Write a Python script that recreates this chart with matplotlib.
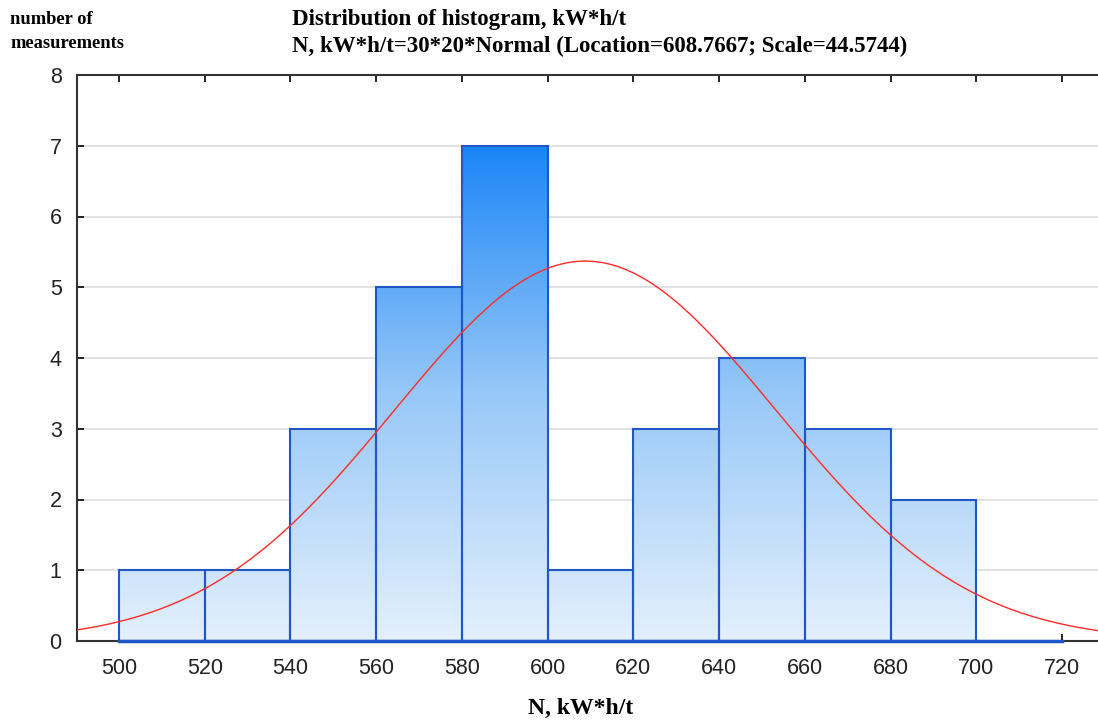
import numpy as np
import matplotlib.pyplot as plt
from matplotlib.colors import LinearSegmentedColormap
from matplotlib.patches import Rectangle


# histogram of N, kW*h/t (30 measurements, bin width 20)
BIN_EDGES = [500, 520, 540, 560, 580, 600, 620, 640, 660, 680, 700, 720]
COUNTS = [1, 1, 3, 5, 7, 1, 3, 4, 3, 2, 0]
X_TICKS = [500, 520, 540, 560, 580, 600, 620, 640, 660, 680, 700, 720]
Y_TICKS = [0, 1, 2, 3, 4, 5, 6, 7, 8]

# fitted normal curve as given in the title
N_OBS = 30
BIN_WIDTH = 20
LOCATION = 608.7667
SCALE = 44.5744

OUTPUT_FIG = "out.png"

SERIF = ["Liberation Serif", "DejaVu Serif"]
SANS = ["Liberation Sans", "DejaVu Sans"]


def normal_fit(x):
    z = (x - LOCATION) / SCALE
    return N_OBS * BIN_WIDTH * np.exp(-0.5 * z**2) / (SCALE * np.sqrt(2 * np.pi))


def main():
    fig = plt.figure(figsize=(10.98, 7.2), dpi=100)
    ax = fig.add_axes([77 / 1098, 1 - 641 / 720, 1 - 77 / 1098, (641 - 75) / 720])

    xmin, xmax = 490.2, 728.4
    ymin, ymax = 0, 8
    ax.set_xlim(xmin, xmax)
    ax.set_ylim(ymin, ymax)

    cmap = LinearSegmentedColormap.from_list("bars", ["#e4f0fc", "#98c8f8", "#1c86f7"])
    grad_top = 7.0

    for y in Y_TICKS[1:-1]:
        ax.axhline(y, color="#dcdcdc", lw=1.2, zorder=0)

    for left, right, c in zip(BIN_EDGES[:-1], BIN_EDGES[1:], COUNTS):
        if c > 0:
            grad = np.linspace(0, c / grad_top, 200).reshape(-1, 1)
            im = ax.imshow(grad, extent=(left, right, 0, c), origin="lower",
                           cmap=cmap, vmin=0, vmax=1, aspect="auto", zorder=1)
            rect = Rectangle((left, 0), right - left, c, fill=False,
                             edgecolor="#1f56c8", lw=1.5, zorder=2)
            ax.add_patch(rect)
            im.set_clip_path(rect)

    # baseline of the empty bins
    ax.plot([BIN_EDGES[0], BIN_EDGES[-1]], [0, 0], color="#1f56c8", lw=2.5,
            zorder=3, clip_on=False)

    x = np.linspace(xmin, xmax, 400)
    ax.plot(x, normal_fit(x), color="#ff2a2a", lw=1.0, zorder=4)

    ax.set_xticks(X_TICKS)
    ax.set_yticks(Y_TICKS)
    ax.tick_params(axis="both", direction="in", length=5, width=1.2,
                   labelsize=15.5, labelcolor="#222222", top=True)
    ax.tick_params(axis="x", pad=12)
    ax.tick_params(axis="y", pad=11)
    for lbl in ax.get_xticklabels() + ax.get_yticklabels():
        lbl.set_family(SANS)

    for side in ["left", "bottom", "top"]:
        ax.spines[side].set_color("#333333")
        ax.spines[side].set_linewidth(1.5)
    ax.spines["right"].set_visible(False)

    fig.text(292 / 1098, 1 - 19 / 720, "Distribution of histogram, kW*h/t",
             family=SERIF, weight="bold", fontsize=16.5, va="center", ha="left")
    fig.text(292 / 1098, 1 - 46 / 720,
             "N, kW*h/t=30*20*Normal (Location=608.7667; Scale=44.5744)",
             family=SERIF, weight="bold", fontsize=16.5, va="center", ha="left")
    fig.text(10 / 1098, 1 - 20 / 720, "number of", family=SERIF, weight="bold",
             fontsize=13.3, va="center", ha="left")
    fig.text(10 / 1098, 1 - 44 / 720, "measurements", family=SERIF, weight="bold",
             fontsize=13.3, va="center", ha="left")
    fig.text(581 / 1098, 1 - 708 / 720, "N, kW*h/t", family=SERIF, weight="bold",
             fontsize=17, va="center", ha="center")

    fig.savefig(OUTPUT_FIG, dpi=100)


if __name__ == "__main__":
    main()
